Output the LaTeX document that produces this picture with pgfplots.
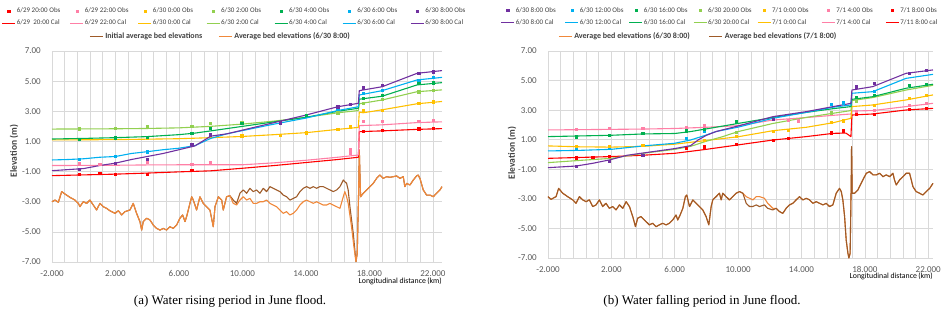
\documentclass[border=0pt]{standalone}
\usepackage{pgfplots}
\pgfplotsset{compat=1.18}
\usepackage{fontspec}
\setmainfont{Liberation Serif}
\newfontfamily\calibf{Carlito}
\newcommand{\LA}[1]{\makebox[44pt][l]{#1}}
\newcommand{\LB}[1]{\makebox[36pt][l]{#1}}
\definecolor{cRed}{HTML}{FF0000}
\definecolor{cPink}{HTML}{FF7FA6}
\definecolor{cYel}{HTML}{FFC000}
\definecolor{cLGr}{HTML}{92D050}
\definecolor{cGrn}{HTML}{00B050}
\definecolor{cBlu}{HTML}{00B0F0}
\definecolor{cPur}{HTML}{7030A0}
\definecolor{cBrn}{HTML}{9E5A28}
\definecolor{cOrg}{HTML}{F0883A}
\definecolor{gridc}{HTML}{D9D9D9}
\definecolor{tickc}{HTML}{595959}
\definecolor{legc}{HTML}{404040}
\pgfplotsset{
  panel/.style={scale only axis, anchor=south west, xmin=-2, ymin=-7, ymax=7,
    xtick={-2,2,6,10,14,18,22},
    xticklabels={-2.000,2.000,6.000,10.000,14.000,18.000,22.000},
    ytick={-7,-5,-3,-1,1,3,5,7},
    yticklabels={-7.00,-5.00,-3.00,-1.00,1.00,3.00,5.00,7.00},
    minor x tick num=4,
    xmajorgrids, xminorgrids, ymajorgrids,
    grid style={draw=gridc, line width=0.6pt},
    minor grid style={draw=gridc, line width=0.6pt},
    major tick length=0pt, minor tick length=0pt,
    axis line style={draw=none},
    tick label style={font=\calibf\fontsize{9}{10}\selectfont, text=tickc},
    yticklabel style={anchor=east, inner sep=0pt, xshift=-11pt},
    xticklabel style={anchor=north, inner sep=0pt, yshift=-8pt},
    ylabel={Elevation (m)},
    ylabel style={anchor=center, font=\calibf\bfseries\fontsize{9.5}{11}\selectfont, text=legc},
    xlabel={Longitudinal distance\,(km)},
    xlabel style={anchor=base east, inner sep=0pt, font=\calibf\fontsize{7.8}{9}\selectfont, text=black},
    legend columns=7,
    legend cell align=left,
    legend style={draw=none, fill=none, inner sep=0pt, font=\calibf\fontsize{7}{8}\selectfont, text=legc,
      row sep=4pt, nodes={inner sep=1pt}},
    clip=false,
  },
  legaxis/.style={hide axis, scale only axis, anchor=south west, xmin=0, xmax=1, ymin=0, ymax=1,
    legend columns=2, legend cell align=left,
    legend style={draw=none, fill=none, inner sep=0pt, font=\calibf\bfseries\fontsize{8}{9}\selectfont, text=legc,
      nodes={inner sep=2pt}},
  },
  calline/.style={color=#1, line width=1.1pt, mark=none, line join=round},
  bedline/.style={color=#1, line width=1.1pt, mark=none, line join=round},
  obsm/.style={color=#1, only marks, mark=square*, mark size=1.1pt},
  calimg/.style={color=#1, line width=1.1pt, legend image code/.code={\draw[##1] (0pt,0pt) -- (13pt,0pt);}},
  obsimg/.style={color=#1, only marks, mark=square*, mark size=1.1pt, legend image code/.code={\draw[##1] plot coordinates {(6.5pt,0pt)};}},
}
\begin{document}
\begin{tikzpicture}
\path[use as bounding box] (0pt,0pt) rectangle (946pt,-320pt);
% ---------------- Panel (a) ----------------
\begin{axis}[panel, at={(52pt,-262pt)}, width=390pt, height=211pt, xmax=22.57,
  ylabel style={at={(axis description cs:-0.0974,0.526)}},
  xlabel style={at={(axis description cs:1,0)}, yshift=-22pt},
  legend style={at={(axis description cs:-0.1295,1.211)}, anchor=north west,
    /tikz/every even column/.append style={column sep=8pt}},
]
\addlegendimage{obsimg=cRed}\addlegendentry{\LA{6/29 20:00 Obs}}
\addlegendimage{obsimg=cPink}\addlegendentry{\LA{6/29 22:00 Obs}}
\addlegendimage{obsimg=cYel}\addlegendentry{\LA{6/30 0:00 Obs}}
\addlegendimage{obsimg=cLGr}\addlegendentry{\LA{6/30 2:00 Obs}}
\addlegendimage{obsimg=cGrn}\addlegendentry{\LA{6/30 4:00 Obs}}
\addlegendimage{obsimg=cBlu}\addlegendentry{\LA{6/30 6:00 Obs}}
\addlegendimage{obsimg=cPur}\addlegendentry{\LA{6/30 8:00 Obs}}
\addlegendimage{calimg=cRed}\addlegendentry{\LA{6/29\ \ 20:00 Cal}}
\addlegendimage{calimg=cPink}\addlegendentry{\LA{6/29 22:00 Cal}}
\addlegendimage{calimg=cYel}\addlegendentry{\LA{6/30 0:00 Cal}}
\addlegendimage{calimg=cLGr}\addlegendentry{\LA{6/30 2:00 Cal}}
\addlegendimage{calimg=cGrn}\addlegendentry{\LA{6/30 4:00 Cal}}
\addlegendimage{calimg=cBlu}\addlegendentry{\LA{6/30 6:00 Cal}}
\addlegendimage{calimg=cPur}\addlegendentry{\LA{6/30 8:00 Cal}}
% Initial bed (brown)
\addplot[bedline=cBrn, forget plot] coordinates {
(-2.0,-3.0) (-1.81,-2.89) (-1.6,-3.04) (-1.39,-2.33) (-1.18,-2.49) (-0.87,-2.71) (-0.55,-2.89) (-0.34,-3.11) (-0.24,-3.33) (-0.03,-3.0) (0.18,-3.11) (0.39,-2.89) (0.6,-3.22) (0.81,-3.55) (1.02,-3.11) (1.23,-3.33) (1.44,-3.44) (1.65,-3.6) (1.97,-3.77) (2.18,-3.6) (2.39,-3.88) (2.6,-3.66) (2.91,-3.55) (3.12,-3.11) (3.33,-3.77) (3.54,-4.32) (3.65,-4.88) (3.75,-4.32) (3.96,-4.1) (4.17,-4.21) (4.38,-4.55) (4.59,-4.77) (4.8,-4.88) (5.01,-4.77) (5.22,-4.88) (5.43,-4.66) (5.64,-4.77) (5.85,-4.55) (6.06,-4.1) (6.23,-3.88) (6.38,-4.32) (6.48,-3.99) (6.69,-3.11) (6.8,-2.67) (6.9,-2.89) (7.11,-3.55) (7.32,-2.67) (7.53,-3.11) (7.74,-3.33) (7.95,-3.55) (8.16,-4.66) (8.27,-3.33) (8.48,-2.67) (8.69,-2.89) (8.79,-3.55) (9.0,-2.67) (9.21,-2.6)
(9.42,-2.89) (9.63,-3.11) (9.84,-2.44) (10.05,-2.22) (10.26,-2.44) (10.47,-2.11) (10.68,-2.33) (10.89,-2.22) (11.1,-2.44) (11.31,-2.11) (11.52,-2.33) (11.73,-2.0) (11.94,-2.11) (12.15,-2.22) (12.36,-2.33) (12.57,-2.56) (12.78,-2.67) (12.99,-2.89) (13.2,-2.78) (13.41,-2.67) (13.62,-2.33) (13.83,-2.11) (14.04,-2.0) (14.25,-2.11) (14.46,-2.0) (14.67,-2.11) (14.88,-2.0) (15.09,-2.0) (15.3,-2.11) (15.51,-2.22) (15.72,-2.33) (15.93,-2.22) (16.14,-2.0) (16.35,-1.56) (16.45,-1.67) (16.56,-1.78) (16.66,-2.22) (16.77,-3.33) (16.98,-5.1) (17.15,-6.98)
(17.23,-6.43) (17.32,-2.22) (17.36,0.43) (17.44,-2.67) (17.61,-2.44) (17.82,-2.22) (18.03,-2.0) (18.24,-1.78) (18.45,-1.45) (18.66,-1.23) (18.87,-1.45) (19.08,-1.34) (19.29,-1.38) (19.5,-1.34) (19.71,-1.29) (19.92,-1.45) (20.13,-1.34) (20.23,-2.0) (20.34,-1.78) (20.55,-1.89) (20.76,-1.56) (20.97,-1.29) (21.07,-1.23) (21.18,-1.45) (21.39,-2.22) (21.6,-2.56) (21.81,-2.56) (22.02,-2.67) (22.23,-2.44) (22.44,-2.22) (22.57,-2.0)
};
% Bed 6/30 8:00 (orange)
\addplot[bedline=cOrg, forget plot] coordinates {
(-2.0,-3.0) (-1.81,-2.89) (-1.6,-3.04) (-1.39,-2.33) (-1.18,-2.49) (-0.87,-2.71) (-0.55,-2.89) (-0.34,-3.11) (-0.24,-3.33) (-0.03,-3.0) (0.18,-3.11) (0.39,-2.89) (0.6,-3.22) (0.81,-3.55) (1.02,-3.11) (1.23,-3.33) (1.44,-3.44) (1.65,-3.6) (1.97,-3.77) (2.18,-3.6) (2.39,-3.88) (2.6,-3.66) (2.91,-3.55) (3.12,-3.11) (3.33,-3.77) (3.54,-4.32) (3.65,-4.88) (3.75,-4.32) (3.96,-4.1) (4.17,-4.21) (4.38,-4.55) (4.59,-4.77) (4.8,-4.88) (5.01,-4.77) (5.22,-4.88) (5.43,-4.66) (5.64,-4.77) (5.85,-4.55) (6.06,-4.1) (6.23,-3.88) (6.38,-4.32) (6.48,-3.99) (6.69,-3.11) (6.8,-2.67) (6.9,-2.89) (7.11,-3.55) (7.32,-2.67) (7.53,-3.11) (7.74,-3.33) (7.95,-3.55) (8.16,-4.66) (8.27,-3.33) (8.48,-2.67) (8.69,-2.89) (8.79,-3.55) (9.0,-2.67) (9.21,-2.6)
(9.42,-3.11) (9.63,-3.22) (9.84,-2.89) (10.05,-2.67) (10.26,-2.89) (10.47,-2.78) (10.68,-3.11) (10.89,-3.11) (11.1,-3.0) (11.31,-3.0) (11.52,-2.89) (11.73,-3.11) (11.94,-3.22) (12.15,-3.33) (12.36,-3.55) (12.57,-3.77) (12.78,-3.66) (12.99,-3.88) (13.2,-3.77) (13.41,-3.55) (13.62,-3.22) (13.83,-3.0) (14.04,-2.89) (14.25,-3.0) (14.46,-3.11) (14.67,-3.0) (14.88,-3.11) (15.09,-3.22) (15.3,-3.22) (15.51,-3.11) (15.72,-3.22) (15.93,-3.33) (16.14,-3.44) (16.35,-2.67) (16.45,-2.33) (16.56,-2.67) (16.66,-3.11) (16.87,-4.66) (17.02,-5.98) (17.15,-6.98)
(17.23,-6.43) (17.32,-2.22) (17.36,0.43) (17.44,-2.67) (17.61,-2.44) (17.82,-2.22) (18.03,-2.0) (18.24,-1.78) (18.45,-1.45) (18.66,-1.23) (18.87,-1.45) (19.08,-1.34) (19.29,-1.38) (19.5,-1.34) (19.71,-1.29) (19.92,-1.45) (20.13,-1.34) (20.23,-2.0) (20.34,-1.78) (20.55,-1.89) (20.76,-1.56) (20.97,-1.29) (21.07,-1.23) (21.18,-1.45) (21.39,-2.22) (21.6,-2.56) (21.81,-2.56) (22.02,-2.67) (22.23,-2.44) (22.44,-2.22) (22.57,-2.0)
};
% Calculated water levels
\addplot[calline=cRed, forget plot] coordinates {(-2,-1.27) (0,-1.22) (2,-1.17) (4,-1.1) (6,-1.02) (8,-0.95) (10,-0.78) (12,-0.6) (14,-0.4) (16,-0.2) (17.3,-0.05) (17.36,1.65) (18.8,1.7) (21,1.8) (22.57,1.85)};
\addplot[calline=cPink, forget plot] coordinates {(-2,-0.6) (2,-0.58) (4,-0.56) (6,-0.55) (8,-0.55) (10,-0.55) (12,-0.42) (14,-0.25) (16,-0.05) (17.3,0.1) (17.36,2.05) (18.8,2.1) (21,2.25) (22.57,2.3)};
\addplot[calline=cYel, forget plot] coordinates {(-2,1.1) (2,1.12) (4,1.15) (6,1.18) (8,1.25) (10,1.33) (12,1.45) (14,1.58) (16,1.8) (17.3,1.93) (17.36,2.95) (17.6,2.9) (18.8,3.1) (21,3.5) (22.57,3.65)};
\addplot[calline=cLGr, forget plot] coordinates {(-2,1.82) (2,1.84) (4,1.86) (6,1.9) (8,2.0) (10,2.15) (12,2.35) (14,2.6) (16,2.9) (17.3,3.05) (17.36,3.5) (18.8,3.75) (21,4.3) (22.57,4.42)};
\addplot[calline=cGrn, forget plot] coordinates {(-2,1.16) (0,1.2) (2,1.25) (4,1.32) (6,1.45) (7,1.55) (8,1.7) (10,2.0) (12,2.3) (14,2.6) (16,3.0) (17.3,3.2) (17.36,3.8) (18.8,4.0) (21,4.75) (22.57,4.9)};
\addplot[calline=cBlu, forget plot] coordinates {(-2,-0.23) (-1,-0.2) (0,-0.15) (1,-0.05) (2,0.0) (3,0.2) (4,0.32) (5,0.45) (6,0.55) (7,0.72) (8,1.2) (9,1.5) (10,1.72) (12,2.15) (14,2.55) (16,3.05) (17.3,3.3) (17.36,4.08) (18.8,4.37) (21,5.08) (22.57,5.25)};
\addplot[calline=cPur, forget plot] coordinates {(-2,-0.94) (0,-0.8) (1,-0.6) (2,-0.44) (3,-0.2) (4,0.0) (5,0.2) (6,0.45) (7,0.7) (8,1.35) (9,1.5) (10,1.75) (12,2.25) (14,2.75) (16,3.3) (17.3,3.53) (17.36,4.37) (18.8,4.63) (21,5.52) (22.57,5.7)};
% Observed water levels
\addplot[obsm=cRed, forget plot] coordinates {(-0.3,-1.2) (1.0,-1.1) (2,-1.2) (4,-1.15) (6.8,-0.9) (17.6,1.7) (18.8,1.75) (21.1,1.85) (22,1.87)};
\addplot[obsm=cPink, forget plot] coordinates {(-0.3,-0.45) (1,-0.5) (4,-0.4) (6.8,-0.5) (7.95,-0.4) (16.8,0.47) (16.8,0.25) (17.6,2.35) (18.8,2.35) (21.1,2.35) (22,2.4)};
\addplot[obsm=cYel, forget plot] coordinates {(4,1.2) (9.95,1.38) (12.4,1.43) (14,1.58) (16,1.82) (16.8,1.98) (17.6,3.08) (18.8,3.08) (21.1,3.53) (22,3.64)};
\addplot[obsm=cLGr, forget plot] coordinates {(-0.3,1.85) (2,1.9) (4,2.0) (6.8,2.0) (7.95,2.2) (9.95,2.3) (16,2.91) (17.6,3.53) (18.8,3.79) (21.1,4.3) (22,4.41)};
\addplot[obsm=cGrn, forget plot] coordinates {(-0.3,1.16) (2,1.25) (4,1.3) (6.8,1.55) (7.95,1.86) (9.95,2.2) (14,2.75) (17.6,3.86) (18.8,4.05) (21.1,4.85) (22,4.9)};
\addplot[obsm=cBlu, forget plot] coordinates {(-0.3,-0.2) (2,0.0) (4,0.32) (7.95,1.4) (16,3.13) (17.6,4.19) (18.8,4.41) (21.1,5.08) (22,5.25)};
\addplot[obsm=cPur, forget plot] coordinates {(-0.3,-0.85) (2,-0.44) (4,-0.17) (6.8,0.8) (7.95,1.45) (12.4,2.24) (16,3.31) (16.8,3.48) (17.6,4.57) (18.8,4.74) (21.1,5.52) (22,5.63)};
\end{axis}
\begin{axis}[legaxis, at={(52pt,-262pt)}, width=390pt, height=211pt,
  legend style={at={(axis description cs:0.0949,1.097)}, anchor=north west,
    /tikz/every even column/.append style={column sep=14pt}}]
\addlegendimage{calimg=cBrn}\addlegendentry{Initial average bed elevations}
\addlegendimage{calimg=cOrg}\addlegendentry{Average bed elevations (6/30 8:00)}
\end{axis}
% ---------------- Panel (b) ----------------
\begin{axis}[panel, at={(548pt,-258pt)}, width=385pt, height=207pt, xmax=22.3,
  ylabel style={at={(axis description cs:-0.0935,0.507)}},
  xlabel style={at={(axis description cs:1,0)}, yshift=-21pt},
  legend style={at={(axis description cs:-0.1234,1.217)}, anchor=north west,
    /tikz/every even column/.append style={column sep=12pt}},
]
\addlegendimage{obsimg=cPur}\addlegendentry{\LB{6/30 8:00 Obs}}
\addlegendimage{obsimg=cBlu}\addlegendentry{\LB{6/30 12:00 Obs}}
\addlegendimage{obsimg=cGrn}\addlegendentry{\LB{6/30 16:00 Obs}}
\addlegendimage{obsimg=cLGr}\addlegendentry{\LB{6/30 20:00 Obs}}
\addlegendimage{obsimg=cYel}\addlegendentry{\LB{7/1 0:00 Obs}}
\addlegendimage{obsimg=cPink}\addlegendentry{\LB{7/1 4:00 Obs}}
\addlegendimage{obsimg=cRed}\addlegendentry{\LB{7/1 8:00 Obs}}
\addlegendimage{calimg=cPur}\addlegendentry{\LB{6/30 8:00 Cal}}
\addlegendimage{calimg=cBlu}\addlegendentry{\LB{6/30 12:00 Cal}}
\addlegendimage{calimg=cGrn}\addlegendentry{\LB{6/30 16:00 Cal}}
\addlegendimage{calimg=cLGr}\addlegendentry{\LB{6/30 20:00 Cal}}
\addlegendimage{calimg=cYel}\addlegendentry{\LB{7/1 0:00 Cal}}
\addlegendimage{calimg=cPink}\addlegendentry{\LB{7/1 4:00 Cal}}
\addlegendimage{calimg=cRed}\addlegendentry{\LB{7/11 8:00 cal}}
% Bed 6/30 8:00 (orange)
\addplot[bedline=cOrg, forget plot] coordinates {
(-2.0,-2.85) (-1.81,-3.03) (-1.49,-2.85) (-1.33,-2.29) (-1.07,-2.62) (-0.76,-2.85) (-0.44,-3.07) (-0.23,-3.3) (-0.02,-2.85) (0.19,-3.07) (0.4,-3.19) (0.61,-3.07) (0.82,-3.52) (1.03,-3.41) (1.24,-3.07) (1.45,-3.52) (1.66,-3.3) (1.87,-3.64) (2.08,-3.52) (2.29,-3.75) (2.51,-3.41) (2.72,-3.64) (2.93,-3.19) (3.14,-3.52) (3.35,-4.2) (3.52,-4.88) (3.66,-4.31) (3.87,-4.2) (4.19,-4.54) (4.4,-4.76) (4.61,-4.65) (4.82,-4.88) (5.03,-4.76) (5.24,-4.65) (5.45,-4.76) (5.66,-4.65) (5.87,-4.43) (6.08,-4.09) (6.19,-4.43) (6.34,-4.09) (6.51,-3.64) (6.67,-2.85) (6.76,-2.74) (6.93,-3.52) (7.14,-3.07) (7.35,-3.3) (7.56,-3.52) (7.77,-3.75) (7.98,-4.2) (8.15,-4.76) (8.3,-3.5) (8.4,-3.07) (8.61,-2.85) (8.82,-2.62) (8.93,-3.07) (9.03,-2.62) (9.24,-2.85) (9.45,-3.07) (9.66,-2.85) (9.87,-2.62) (10.09,-2.51) (10.3,-2.62)
(10.51,-2.85) (10.72,-2.96) (10.93,-3.07) (11.14,-2.85) (11.35,-2.85) (11.66,-2.96) (11.87,-3.3) (12.19,-3.64)
(12.4,-3.64) (12.61,-3.86) (12.82,-3.98) (13.03,-3.64) (13.24,-3.41) (13.45,-3.3) (13.66,-3.07) (13.87,-2.85) (14.09,-3.07) (14.3,-2.96) (14.51,-3.07) (14.72,-3.3) (14.93,-3.19) (15.14,-3.3) (15.35,-3.41) (15.56,-3.3) (15.77,-3.52) (15.98,-3.41) (16.19,-2.62) (16.4,-2.29) (16.51,-2.51) (16.61,-3.07) (16.72,-4.2) (16.82,-5.78) (16.93,-6.68) (16.99,-7.0) (17.07,-6.68) (17.14,-1.72) (17.16,0.53) (17.2,-2.62) (17.35,-2.62) (17.56,-2.4) (17.66,-2.17) (17.87,-1.72) (18.09,-1.27) (18.3,-1.16) (18.51,-1.38) (18.72,-1.38) (18.93,-1.27) (19.14,-1.5) (19.35,-1.38) (19.56,-1.5) (19.77,-1.27) (19.87,-1.72) (19.98,-2.06) (20.19,-1.72) (20.4,-1.5) (20.61,-1.27) (20.82,-1.27) (20.93,-1.72) (21.03,-2.17) (21.24,-2.51) (21.45,-2.62) (21.66,-2.74) (21.87,-2.51) (22.09,-2.29) (22.3,-1.95)
};
% Bed 7/1 8:00 (brown)
\addplot[bedline=cBrn, forget plot] coordinates {
(-2.0,-2.85) (-1.81,-3.03) (-1.49,-2.85) (-1.33,-2.29) (-1.07,-2.62) (-0.76,-2.85) (-0.44,-3.07) (-0.23,-3.3) (-0.02,-2.85) (0.19,-3.07) (0.4,-3.19) (0.61,-3.07) (0.82,-3.52) (1.03,-3.41) (1.24,-3.07) (1.45,-3.52) (1.66,-3.3) (1.87,-3.64) (2.08,-3.52) (2.29,-3.75) (2.51,-3.41) (2.72,-3.64) (2.93,-3.19) (3.14,-3.52) (3.35,-4.2) (3.52,-4.88) (3.66,-4.31) (3.87,-4.2) (4.19,-4.54) (4.4,-4.76) (4.61,-4.65) (4.82,-4.88) (5.03,-4.76) (5.24,-4.65) (5.45,-4.76) (5.66,-4.65) (5.87,-4.43) (6.08,-4.09) (6.19,-4.43) (6.34,-4.09) (6.51,-3.64) (6.67,-2.85) (6.76,-2.74) (6.93,-3.52) (7.14,-3.07) (7.35,-3.3) (7.56,-3.52) (7.77,-3.75) (7.98,-4.2) (8.15,-4.76) (8.3,-3.5) (8.4,-3.07) (8.61,-2.85) (8.82,-2.62) (8.93,-3.07) (9.03,-2.62) (9.24,-2.85) (9.45,-3.07) (9.66,-2.85) (9.87,-2.62) (10.09,-2.51) (10.3,-2.62)
(10.51,-3.3) (10.72,-3.52) (10.93,-3.52) (11.14,-3.41) (11.35,-3.52) (11.66,-3.41) (11.87,-3.64) (12.19,-3.75)
(12.4,-3.64) (12.61,-3.86) (12.82,-3.98) (13.03,-3.64) (13.24,-3.41) (13.45,-3.3) (13.66,-3.07) (13.87,-2.85) (14.09,-3.07) (14.3,-2.96) (14.51,-3.07) (14.72,-3.3) (14.93,-3.19) (15.14,-3.3) (15.35,-3.41) (15.56,-3.3) (15.77,-3.52) (15.98,-3.41) (16.19,-2.62) (16.4,-2.29) (16.51,-2.51) (16.61,-3.07) (16.72,-4.2) (16.82,-5.78) (16.93,-6.68) (16.99,-7.0) (17.07,-6.68) (17.14,-1.72) (17.16,0.53) (17.2,-2.62) (17.35,-2.62) (17.56,-2.4) (17.66,-2.17) (17.87,-1.72) (18.09,-1.27) (18.3,-1.16) (18.51,-1.38) (18.72,-1.38) (18.93,-1.27) (19.14,-1.5) (19.35,-1.38) (19.56,-1.5) (19.77,-1.27) (19.87,-1.72) (19.98,-2.06) (20.19,-1.72) (20.4,-1.5) (20.61,-1.27) (20.82,-1.27) (20.93,-1.72) (21.03,-2.17) (21.24,-2.51) (21.45,-2.62) (21.66,-2.74) (21.87,-2.51) (22.09,-2.29) (22.3,-1.95)
};
% Calculated water levels
\addplot[calline=cRed, forget plot] coordinates {(-2,-0.26) (0,-0.2) (2,-0.14) (4,-0.05) (6,0.08) (8,0.35) (10,0.65) (12.2,0.98) (14.3,1.21) (16,1.43) (16.8,1.45) (17.12,1.21) (17.18,2.67) (18.5,2.74) (20.6,3.01) (22.3,3.12)};
\addplot[calline=cPink, forget plot] coordinates {(-2,1.66) (2,1.7) (4,1.72) (6,1.76) (8,1.84) (10,1.95) (12.2,2.33) (14.3,2.5) (16,2.65) (17.12,2.74) (17.18,2.94) (18.5,2.97) (20.6,3.24) (22.3,3.46)};
\addplot[calline=cYel, forget plot] coordinates {(-2,0.58) (0,0.52) (2,0.5) (4,0.55) (6,0.7) (8,0.95) (10,1.2) (12.2,1.61) (14.3,1.84) (16,2.15) (17.12,2.45) (17.18,3.24) (18.5,3.35) (20.6,3.69) (22.3,4.03)};
\addplot[calline=cLGr, forget plot] coordinates {(-2,-0.55) (0,-0.4) (2,-0.26) (4,0.08) (6,0.35) (7,0.55) (8,0.9) (9,1.2) (10,1.55) (12.2,2.1) (14.3,2.51) (16,2.79) (17.12,2.97) (17.18,3.65) (18.5,3.85) (20.6,4.36) (22.3,4.68)};
\addplot[calline=cGrn, forget plot] coordinates {(-2,1.21) (2,1.3) (4,1.39) (6,1.42) (7,1.55) (8.2,1.77) (10,2.1) (12.2,2.5) (14.3,2.85) (16,3.1) (17.12,3.24) (17.18,3.73) (18.5,3.91) (20.6,4.48) (22.3,4.75)};
\addplot[calline=cBlu, forget plot] coordinates {(-2,0.24) (0,0.28) (2,0.35) (4,0.58) (6,0.76) (7,0.98) (8,1.32) (8.6,1.55) (10,1.85) (12.2,2.45) (14.3,2.85) (16,3.2) (17.12,3.35) (17.18,4.14) (18.5,4.25) (20.6,5.15) (22.3,5.42)};
\addplot[calline=cPur, forget plot] coordinates {(-2,-0.89) (-0.23,-0.78) (0.8,-0.6) (1.87,-0.37) (3,-0.05) (4,0.1) (5,0.25) (6,0.4) (7,0.6) (7.5,1.0) (8,1.3) (8.6,1.55) (10,1.93) (12.2,2.56) (14.3,2.9) (16,3.24) (17.12,3.46) (17.18,4.36) (18.5,4.59) (20.6,5.49) (22.3,5.72)};
% Observed water levels
\addplot[obsm=cPur, forget plot] coordinates {(-0.23,-0.78) (1.87,-0.48) (3.98,-0.03) (12.19,2.4) (17.45,4.59) (18.61,4.81) (20.82,5.49) (21.87,5.72)};
\addplot[obsm=cBlu, forget plot] coordinates {(-0.23,0.35) (1.87,0.42) (6.72,1.1) (7.87,1.6) (15.87,3.42) (16.61,3.5) (18.61,4.3)};
\addplot[obsm=cGrn, forget plot] coordinates {(-0.23,1.21) (1.87,1.32) (3.98,1.43) (6.72,1.61) (7.87,1.7) (9.87,2.22) (17.45,3.87) (18.61,4.0) (20.82,4.7) (21.87,4.75)};
\addplot[obsm=cLGr, forget plot] coordinates {(9.87,1.5) (15.87,2.83) (17.45,3.6)};
\addplot[obsm=cYel, forget plot] coordinates {(-0.23,0.58) (1.87,0.58) (3.98,0.64) (7.87,0.98) (9.87,1.25) (12.19,1.55) (13.14,1.66) (15.87,2.2) (16.61,2.29) (18.61,3.35) (20.82,3.8) (21.87,4.0)};
\addplot[obsm=cPink, forget plot] coordinates {(-0.23,1.7) (1.87,1.77) (3.98,1.77) (6.72,1.84) (7.87,2.0) (13.14,2.3) (13.77,2.29) (17.45,2.9) (18.61,3.0) (20.82,3.35) (21.87,3.45)};
\addplot[obsm=cRed, forget plot] coordinates {(-0.23,-0.21) (0.82,-0.19) (1.87,-0.14) (6.72,0.42) (7.87,0.53) (9.87,0.71) (12.19,0.94) (13.14,1.1) (15.87,1.48) (16.61,1.61) (17.45,2.74) (18.61,2.74) (20.82,3.06) (21.87,3.12)};
\end{axis}
\begin{axis}[legaxis, at={(548pt,-258pt)}, width=385pt, height=207pt,
  legend style={at={(axis description cs:0.026,1.099)}, anchor=north west,
    /tikz/every even column/.append style={column sep=17pt}}]
\addlegendimage{calimg=cOrg}\addlegendentry{Average bed elevations (6/30 8:00)}
\addlegendimage{calimg=cBrn}\addlegendentry{Average bed elevations (7/1 8:00)}
\end{axis}
% Captions
\node[anchor=base, font=\fontsize{13}{15}\selectfont] at (230pt,-305pt) {(a) Water rising period in June flood.};
\node[anchor=base, font=\fontsize{13}{15}\selectfont] at (702pt,-305pt) {(b) Water falling period in June flood.};
\end{tikzpicture}
\end{document}
